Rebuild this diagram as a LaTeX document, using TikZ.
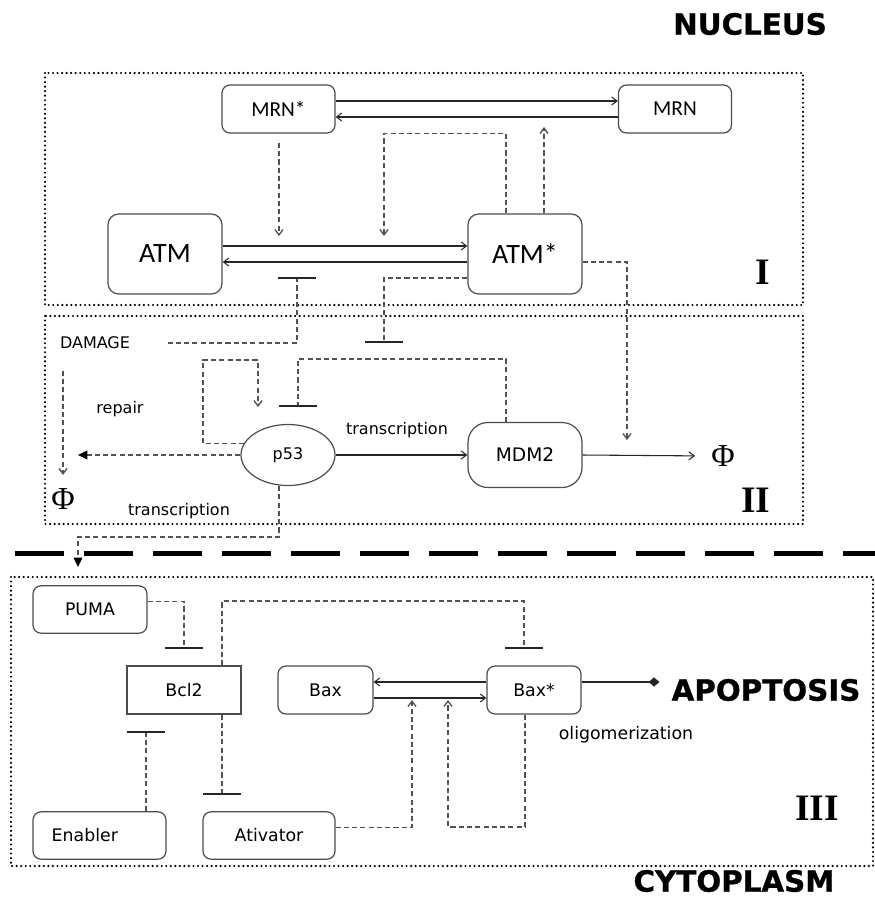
\documentclass[tikz,border=0pt]{standalone}
\usepackage{fontspec}
\setmainfont{DejaVu Sans}
\newfontfamily\carlitof{Carlito}
\newfontfamily\timesf{Liberation Serif}
\newfontfamily\blackf{DejaVu Sans Bold}[FakeBold=1]
\usetikzlibrary{arrows.meta,shapes.geometric}
\begin{document}
\begin{tikzpicture}[x=0.75pt,y=-0.75pt,
  every node/.style={inner sep=0pt},
  box/.style={draw=black!70, line width=0.9pt, rounded corners=6pt, fill=white},
  lab/.style={font=\fontsize{12}{14}\selectfont},
  nlab/.style={font=\fontsize{13}{15}\selectfont},
  mrnbox/.style={box, minimum width=84.75pt, minimum height=36pt, font=\carlitof\fontsize{16}{18}\selectfont},
  atmbox/.style={box, rounded corners=8pt, minimum width=85.5pt, minimum height=60pt, font=\carlitof\fontsize{21}{24}\selectfont},
  cbox/.style={box, nlab, minimum height=35.5pt},
  sol/.style={draw=black!85, line width=0.8pt},
  arr/.style={sol, -{Straight Barb[length=4pt,width=6pt]}},
  dsh/.style={draw=black!68, line width=1pt, dash pattern=on 3.8pt off 2.4pt},
  darr/.style={dsh, -{Straight Barb[length=4pt,width=6pt]}},
  dtri/.style={dsh, -{Triangle[length=7pt,width=6.5pt,color=black]}},
  dinh/.style={dsh, -{Bar[width=28.5pt,line width=1.2pt,color=black!85]}},
  region/.style={draw=black, line width=1.8pt, line cap=round, dash pattern=on 0pt off 3.4pt},
  roman/.style={font=\timesf\bfseries\fontsize{28}{30}\selectfont},
  phi/.style={font=\timesf\fontsize{24}{26}\selectfont},
  title/.style={font=\blackf\fontsize{22}{24}\selectfont}]

\useasboundingbox (0,0) rectangle (875,897);
\fill[white] (0,0) rectangle (875,897);

% regions
\draw[region] (45,73) rectangle (803,305);
\draw[region] (45,316) rectangle (803,524);
\draw[region] (11,577) rectangle (873,866);

% separator
\coordinate (sepL) at (0,553);
\coordinate (sepR) at (875,553);
\draw[line width=3.75pt, dash pattern=on 36.75pt off 15pt, dash phase=40.5pt] (sepL) -- (sepR);

% titles
\node[title] (nucleus) at (750,24) {NUCLEUS};
\node[title] (apop) at (766,690) {APOPTOSIS};
\node[title] (cyto) at (734,881) {CYTOPLASM};
\node[roman] (r1) at (763,272) {I};
\node[roman] (r2) at (756,500) {II};
\node[roman] (r3) at (817,808) {III};

% nodes region I
\node[mrnbox] (mrns) at (278.5,109) {MRN*};
\node[mrnbox] (mrn) at (675,109) {MRN};
\node[atmbox] (atm) at (165,254) {ATM};
\node[atmbox] (atms) at (525,254) {ATM*};

% nodes region II
\node[lab] (damage) at (95,343) {DAMAGE};
\node[lab] (repair) at (120,409) {repair};
\node[lab] (tr1) at (397,430) {transcription};
\node[lab] (tr2) at (179,511) {transcription};
\node[phi] (phi1) at (63,499) {Φ};
\node[phi] (phi2) at (723,456) {Φ};
\node[draw=black!70, line width=0.9pt, ellipse, minimum width=70.5pt, minimum height=45.75pt, lab] (p53) at (288,455) {p53};
\node[box, rounded corners=15pt, minimum width=85.5pt, minimum height=48.75pt, font=\fontsize{14}{16}\selectfont] (mdm2) at (525,455) {MDM2};

% nodes region III
\node[cbox, minimum width=85.5pt] (puma) at (90,609.5) {PUMA};
\node[draw=black!70, line width=0.9pt, nlab, minimum width=85.5pt, minimum height=36pt] (bcl2) at (184,690) {Bcl2};
\node[cbox, minimum width=71.25pt, minimum height=36pt] (bax) at (325.5,690) {Bax};
\node[cbox, minimum width=70.5pt, minimum height=36pt] (baxs) at (534,690) {Bax*};
\node[cbox, minimum width=99.75pt] (enab) at (99.5,835.5) {Enabler\hspace*{22pt}};
\node[cbox, minimum width=99pt] (ativ) at (269,835.5) {Ativator};
\node[nlab] (olig) at (626,735) {oligomerization};

% free ends
\coordinate (fa) at (384,236);
\coordinate (fb) at (544,127);
\coordinate (fc) at (279,236);
\coordinate (fd) at (297,277);
\coordinate (fe) at (384,343);
\coordinate (ff) at (627,440);
\coordinate (fh) at (78,455);
\coordinate (fi) at (258,407);
\coordinate (fj) at (298,407);
\coordinate (fm) at (78,567);
\coordinate (fp) at (184,649);
\coordinate (fq) at (524,649);
\coordinate (fr) at (222,795);
\coordinate (fs) at (146,731);
\coordinate (ft) at (412,700);
\coordinate (fu) at (448,700);

% region I connectors
\draw[arr] ([yshift=6pt]mrns.east) -- ([yshift=6pt]mrn.west);
\draw[arr] ([yshift=-6pt]mrn.west) -- ([yshift=-6pt]mrns.east);
\draw[arr] ([yshift=6pt]atm.east) -- ([yshift=6pt]atms.west);
\draw[arr] ([yshift=-6pt]atms.west) -- ([yshift=-6pt]atm.east);
\draw[darr, shorten <=7pt] (mrns.south -| fc) -- (fc);
\draw[darr] (atms.north -| 506,0) |- (fa |- mrns.south) -- (fa);
\draw[darr] (atms.north -| fb) -- (fb);
\draw[dinh, shorten <=28pt] (damage.east) -| (fd);
\draw[dinh] ([yshift=-18pt]atms.west) -| (fe);
\draw[darr] ([yshift=-6pt]atms.east) -| (ff);

% region II connectors
\draw[darr, shorten <=16pt, shorten >=10pt] (damage.south -| phi1) -- (phi1.north);
\draw[dtri] (p53.west) -- (fh);
\draw[darr] (p53.165) -| (203,360) -| (fi);
\draw[dinh] (mdm2.north -| 506,0) -- (506,359) -| (fj);
\draw[arr] (p53.east) -- (mdm2.west);
\draw[arr, shorten >=12pt] (mdm2.east) -- (phi2.west);
\draw[dtri] (p53.south -| 279,0) -- (279,537) -| (fm);

% region III connectors
\draw[arr] ([yshift=6pt]baxs.west) -- ([yshift=6pt]bax.east);
\draw[arr] ([yshift=-6pt]bax.east) -- ([yshift=-6pt]baxs.west);
\draw[dinh] ([yshift=6pt]puma.east) -| (fp);
\draw[dinh] (bcl2.north -| 222,0) |- (524,601) -- (fq);
\draw[dinh] (bcl2.south -| fr) -- (fr);
\draw[dinh] (enab.north -| fs) -- (fs);
\draw[darr] ([yshift=6pt]ativ.east) -| (ft);
\draw[darr] (baxs.south -| 525,0) |- (448,827) -- (fu);
\draw[sol, -{Diamond[length=8pt,width=7pt]}, shorten >=9pt] ([yshift=6pt]baxs.east) -- ([yshift=6pt]baxs.east -| apop.west);
\end{tikzpicture}
\end{document}
